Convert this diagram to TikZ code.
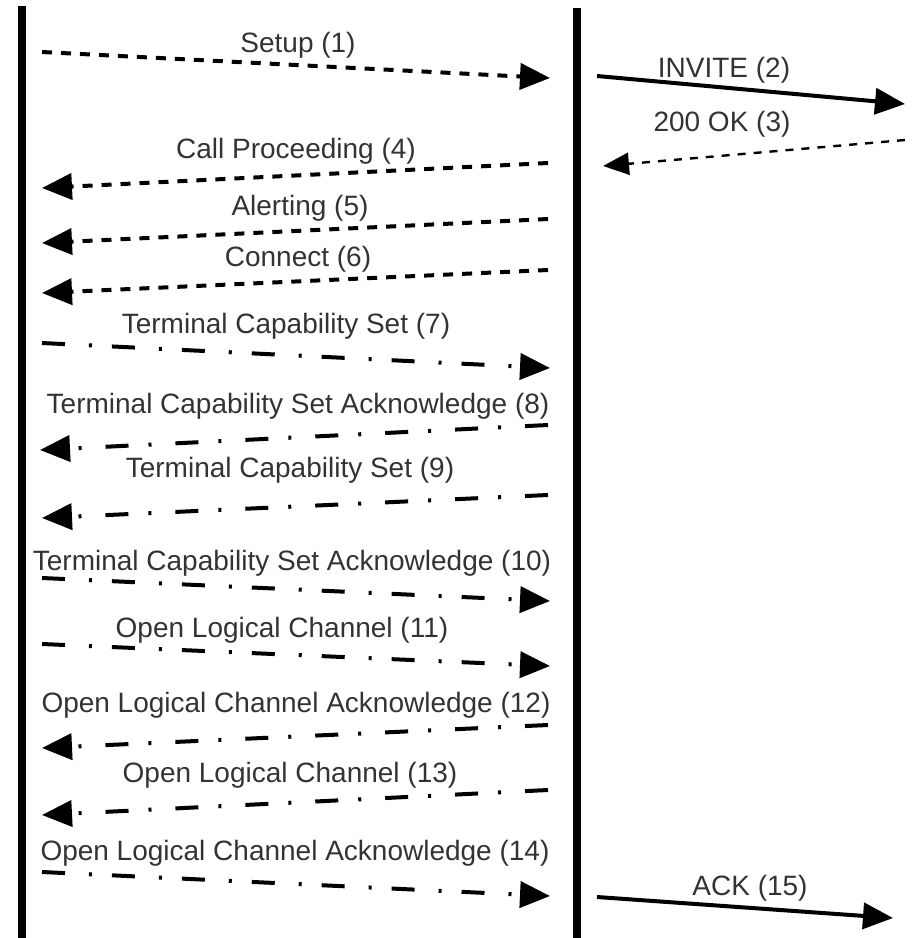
\documentclass[tikz,border=0pt]{standalone}
\usepackage{fontspec}
\setmainfont{Liberation Sans}
\usetikzlibrary{arrows.meta}
\begin{document}
\begin{tikzpicture}[x=0.5pt,y=-0.5pt,
  life/.style={line width=4pt},
  msg/.style={line width=2pt,-{Triangle[length=15pt,width=13pt]}},
  dsh/.style={msg,dash pattern=on 5pt off 4.5pt},
  thin dsh/.style={line width=1.2pt,-{Triangle[length=13pt,width=11pt]},dash pattern=on 4pt off 4pt},
  dd/.style={msg,dash pattern=on 11.5pt off 12pt on 1.5pt off 10pt},
  solid msg/.style={line width=2pt,-{Triangle[length=15pt,width=13pt]}},
  lbl/.style={font=\fontsize{14}{14}\selectfont,text=black!80,inner sep=0pt}]
\useasboundingbox (0,0) rectangle (920,938);
% lifelines
\coordinate (L1t) at (22,6);  \coordinate (L1b) at (22,938);
\coordinate (L2t) at (577,8); \coordinate (L2b) at (577,938);
\draw[life] (L1t) -- (L1b);
\draw[life] (L2t) -- (L2b);
% endpoints
\coordinate (a1) at (42,52);   \coordinate (b1) at (550,78);
\coordinate (a2) at (597,76);  \coordinate (b2) at (905,104);
\coordinate (a3) at (905,140); \coordinate (b3) at (603,166);
\coordinate (a4) at (548,163); \coordinate (b4) at (42,188);
\coordinate (a5) at (548,219); \coordinate (b5) at (42,243);
\coordinate (a6) at (548,270); \coordinate (b6) at (42,293);
\coordinate (a7) at (42,343);  \coordinate (b7) at (550,368);
\coordinate (a8) at (548,425); \coordinate (b8) at (40,450);
\coordinate (a9) at (548,495); \coordinate (b9) at (42,518);
\coordinate (a10) at (42,578); \coordinate (b10) at (550,601);
\coordinate (a11) at (42,644); \coordinate (b11) at (550,666);
\coordinate (a12) at (548,725); \coordinate (b12) at (42,748);
\coordinate (a13) at (548,790); \coordinate (b13) at (42,815);
\coordinate (a14) at (42,872); \coordinate (b14) at (550,896);
\coordinate (a15) at (597,897); \coordinate (b15) at (893,918);
% arrows
\draw[dsh] (a1) -- (b1);
\draw[solid msg] (a2) -- (b2);
\draw[thin dsh] (a3) -- (b3);
\draw[dsh] (a4) -- (b4);
\draw[dsh] (a5) -- (b5);
\draw[dsh] (a6) -- (b6);
\draw[dd] (a7) -- (b7);
\draw[dd] (a8) -- (b8);
\draw[dd] (a9) -- (b9);
\draw[dd] (a10) -- (b10);
\draw[dd] (a11) -- (b11);
\draw[dd] (a12) -- (b12);
\draw[dd] (a13) -- (b13);
\draw[dd] (a14) -- (b14);
\draw[solid msg] (a15) -- (b15);
% labels
\node[lbl] (t1) at (298,45) {Setup (1)};
\node[lbl] (t2) at (724,70) {INVITE (2)};
\node[lbl] (t3) at (722,124) {200 OK (3)};
\node[lbl] (t4) at (296,151) {Call Proceeding (4)};
\node[lbl] (t5) at (300,208) {Alerting (5)};
\node[lbl] (t6) at (298,259) {Connect (6)};
\node[lbl] (t7) at (286,326) {Terminal Capability Set (7)};
\node[lbl] (t8) at (298,406) {Terminal Capability Set Acknowledge (8)};
\node[lbl] (t9) at (290,470) {Terminal Capability Set (9)};
\node[lbl] (t10) at (292,563) {Terminal Capability Set Acknowledge (10)};
\node[lbl] (t11) at (282,630) {Open Logical Channel (11)};
\node[lbl] (t12) at (296,705) {Open Logical Channel Acknowledge (12)};
\node[lbl] (t13) at (290,775) {Open Logical Channel (13)};
\node[lbl] (t14) at (295,853) {Open Logical Channel Acknowledge (14)};
\node[lbl] (t15) at (750,888) {ACK (15)};
\end{tikzpicture}
\end{document}
